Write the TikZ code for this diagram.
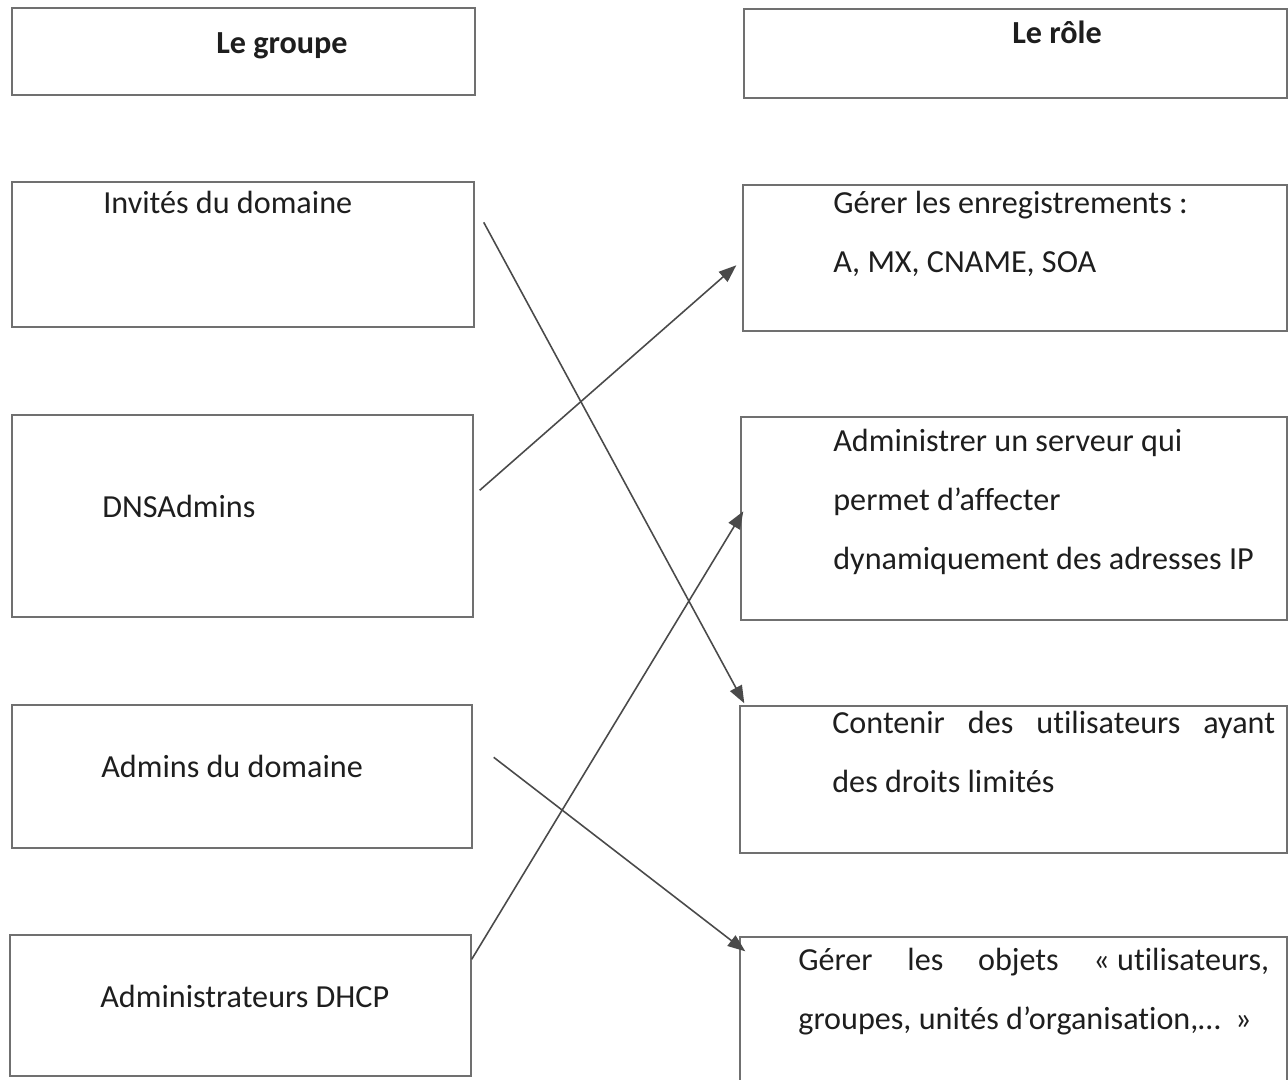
\documentclass[tikz,border=0pt]{standalone}
\usepackage{fontspec}
\setmainfont{Carlito}[Ligatures=CommonOff]
\usetikzlibrary{arrows.meta,fit}

\definecolor{boxgray}{HTML}{707070}
\definecolor{linegray}{HTML}{4A4A4A}
\definecolor{ink}{HTML}{1E1E1E}

\tikzset{
	cell/.style={draw=boxgray, line width=0.8pt, inner sep=0pt},
	txt/.style={anchor=base west, inner sep=0pt, align=left, text=ink,
		font=\fontsize{18.3}{33.5}\selectfont},
	head/.style={anchor=base, inner sep=0pt, text=ink,
		font=\fontsize{18.3}{33.5}\selectfont\bfseries},
	link/.style={draw=linegray, line width=0.9pt,
		-{Triangle[length=10pt,width=7.5pt]}}
}

\begin{document}
\begin{tikzpicture}[x=0.02cm,y=-0.02cm]
	\useasboundingbox (0,0) rectangle (1288,1079);
	
	% les groupes
	\node[cell, fit={(12,8) (475,95)}] (grp) {};
	\node[cell, fit={(12,182) (474,327)}] (inv) {};
	\node[cell, fit={(12,415) (473,617)}] (dns) {};
	\node[cell, fit={(12,705) (472,848)}] (adm) {};
	\node[cell, fit={(10,935) (471,1076)}] (dhcp) {};
	
	% les roles
	\node[cell, fit={(744,9) (1287,98)}] (role) {};
	\node[cell, fit={(743,185) (1287,331)}] (enr) {};
	\node[cell, fit={(741,417) (1287,620)}] (srv) {};
	\node[cell, fit={(740,706) (1287,853)}] (lim) {};
	\node[cell, fit={(740,937) (1287,1085)}] (obj) {};
	
	\node[head] (tgrp) at (282,53) {Le groupe};
	\node[head] (trole) at (1057,43) {Le rôle};
	
	\node[txt] (tinv) at (103,213) {Invités du domaine};
	\node[txt] (tdns) at (102,517) {DNSAdmins};
	\node[txt] (tadm) at (101,777) {Admins du domaine};
	\node[txt] (tdhcp) at (100,1007) {Administrateurs DHCP};
	
	% base = derniere ligne
	\node[txt] (tenr) at (833,272) {Gérer les enregistrements :\\ A, MX, CNAME, SOA};
	\node[txt] (tsrv) at (833,569) {Administrer un serveur qui\\ permet d’affecter\\ dynamiquement des adresses IP};
	\node[txt] (tlim) at (832,792) {\hbox to 252pt{Contenir\hfill des\hfill utilisateurs\hfill ayant}\\ des droits limités};
	\node[txt] (tobj) at (798,1029) {\hbox to 268pt{Gérer\hfill les\hfill objets\hfill «~utilisateurs,}\\ groupes, unités d’organisation,…~~»};
	
	% les liens
	\draw[link] ([shift={(9,41)}]inv.north east) -- ([shift={(5,-2)}]lim.north west);
	\draw[link] ([shift={(6,76)}]dns.north east) -- ([shift={(-6,81)}]enr.north west);
	\draw[link] ([shift={(21,53)}]adm.north east) -- ([shift={(6,15)}]obj.north west);
	\draw[link] ([shift={(0,25)}]dhcp.north east) -- ([shift={(3,95)}]srv.north west);
	
\end{tikzpicture}
\end{document}
